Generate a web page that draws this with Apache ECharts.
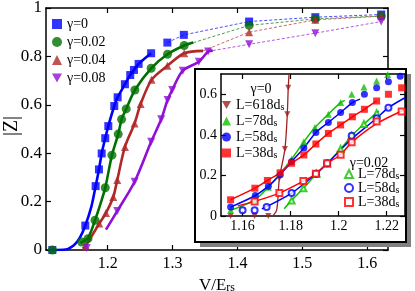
<!DOCTYPE html>
<html><head><meta charset="utf-8">
<script src="https://cdn.jsdelivr.net/npm/echarts@6/dist/echarts.min.js"></script>
<style>html,body{margin:0;padding:0;background:#fff}#c{width:415px;height:291px}</style>
</head><body><div id="c"></div>
<script>
// ---------- tick values ----------
const mainXTicks = [1.2, 1.3, 1.4, 1.5, 1.6];
const mainYTicks = [0, 0.2, 0.4, 0.6, 0.8, 1];
const insetXTicks = [1.16, 1.18, 1.2, 1.22];
const insetYTicks = [0, 0.2, 0.4, 0.6];

// ---------- main panel data [V/Ers, |Z|] ----------
const g000Pts = [[1.1148,0],[1.1656,0.101],[1.1815,0.264],[1.1866,0.333],[1.1908,0.399],[1.1963,0.462],[1.201,0.512],[1.2102,0.595],[1.2154,0.631],[1.2266,0.685],[1.2348,0.723],[1.2405,0.744],[1.2477,0.769],[1.267,0.813],[1.292,0.857],[1.3174,0.889],[1.418,0.944],[1.52,0.962],[1.6215,0.973]];
const g000Fit = [[1.115,0],[1.135,0.002],[1.148,0.02],[1.157,0.05],[1.1656,0.101],[1.175,0.18],[1.1815,0.264],[1.1866,0.333],[1.1908,0.399],[1.1963,0.462],[1.201,0.512],[1.2102,0.595],[1.2154,0.631],[1.2266,0.685],[1.2348,0.723],[1.2405,0.744],[1.2477,0.769],[1.267,0.813]];
const g000Dash = [[1.292,0.857],[1.3174,0.889],[1.418,0.944],[1.52,0.962],[1.6215,0.973]];

const g002Pts = [[1.1148,0],[1.16,0.033],[1.1697,0.047],[1.1805,0.123],[1.1963,0.257],[1.2066,0.392],[1.2163,0.479],[1.2215,0.540],[1.2286,0.583],[1.242,0.661],[1.267,0.751],[1.2923,0.809],[1.3179,0.845],[1.418,0.928],[1.52,0.955],[1.6215,0.967]];
const g002Fit = [[1.158,0.03],[1.1697,0.05],[1.1805,0.123],[1.19,0.2],[1.1963,0.257],[1.2066,0.392],[1.2163,0.479],[1.2215,0.540],[1.2286,0.583],[1.242,0.661],[1.267,0.751],[1.2923,0.809],[1.3179,0.845],[1.332,0.857]];
const g002Dash = [[1.332,0.857],[1.418,0.928],[1.52,0.955],[1.6215,0.967]];

const g004Pts = [[1.1666,0.015],[1.1871,0.109],[1.1974,0.153],[1.2086,0.219],[1.2148,0.289],[1.2266,0.426],[1.2415,0.523],[1.2508,0.603],[1.2677,0.703],[1.292,0.761],[1.318,0.813],[1.418,0.900],[1.52,0.951],[1.6215,0.966]];
const g004Fit = [[1.1615,0.005],[1.1666,0.02],[1.1871,0.109],[1.1974,0.153],[1.2086,0.219],[1.2148,0.289],[1.2266,0.426],[1.2415,0.523],[1.2508,0.603],[1.2677,0.703],[1.292,0.761],[1.318,0.813],[1.347,0.823]];
const g004Dash = [[1.347,0.823],[1.418,0.900],[1.52,0.951],[1.6215,0.966]];

const g008Pts = [[1.1677,0.008],[1.2148,0.161],[1.2415,0.282],[1.267,0.447],[1.2825,0.540],[1.2923,0.620],[1.2994,0.661],[1.3158,0.741],[1.3405,0.778],[1.3548,0.82],[1.418,0.850],[1.52,0.896],[1.6215,0.944]];
const g008Fit = [[1.1974,0.084],[1.2148,0.161],[1.2415,0.282],[1.267,0.447],[1.2825,0.540],[1.2923,0.620],[1.2994,0.661],[1.3158,0.741],[1.3405,0.778],[1.3548,0.82],[1.362,0.824]];
const g008Dash = [[1.362,0.824],[1.418,0.850],[1.52,0.896],[1.6215,0.944]];

// ---------- inset data ----------
const a618Pts = [[1.155,0],[1.165,0],[1.1707,0],[1.1753,0.185],[1.1776,0.330],[1.1786,0.502],[1.179,0.632]];
const a618Fit = [[1.1725,0],[1.1742,0.03],[1.1753,0.185],[1.1776,0.330],[1.1786,0.502],[1.179,0.632],[1.1796,0.75]];
const a78Pts = [[1.155,0.028],[1.1651,0.080],[1.1707,0.142],[1.1756,0.208],[1.1804,0.281],[1.1855,0.366],[1.1901,0.436],[1.1957,0.502],[1.2008,0.559],[1.2054,0.600],[1.2105,0.636],[1.2158,0.665],[1.2204,0.698]];
const a78Fit = [[1.155,0.028],[1.1651,0.080],[1.1707,0.142],[1.1756,0.208],[1.1804,0.281],[1.1855,0.366],[1.1901,0.436],[1.1957,0.502],[1.2008,0.559],[1.2025,0.57]];
const a58Pts = [[1.155,0.044],[1.1653,0.101],[1.1707,0.147],[1.1756,0.203],[1.1804,0.268],[1.1855,0.335],[1.1905,0.412],[1.1957,0.461],[1.2008,0.510],[1.2057,0.559],[1.2107,0.600],[1.2158,0.632],[1.2207,0.662],[1.2256,0.689]];
const a58Fit = [[1.155,0.044],[1.1653,0.101],[1.1707,0.147],[1.1756,0.203],[1.1804,0.268],[1.1855,0.335],[1.1905,0.412],[1.1957,0.461],[1.2008,0.510],[1.2057,0.559],[1.2089,0.576]];
const a38Pts = [[1.155,0.080],[1.1651,0.137],[1.1703,0.175],[1.1756,0.213],[1.1804,0.260],[1.1855,0.301],[1.1905,0.355],[1.1957,0.407],[1.2008,0.449],[1.2057,0.489],[1.2107,0.526],[1.2158,0.567],[1.2207,0.600],[1.2262,0.632]];
const a38Fit = [[1.155,0.080],[1.1651,0.137],[1.1703,0.175],[1.1756,0.213],[1.1804,0.260],[1.1855,0.301],[1.1905,0.355],[1.1957,0.407],[1.2008,0.449],[1.2057,0.489],[1.2107,0.526],[1.2158,0.567]];

const b78Pts = [[1.1804,0.077],[1.1853,0.137],[1.1908,0.208],[1.1952,0.257],[1.2008,0.330],[1.2054,0.396],[1.2105,0.453],[1.2158,0.507]];
const b78Fit = [[1.1773,0.036],[1.1804,0.077],[1.1853,0.137],[1.1908,0.208],[1.1952,0.257],[1.2008,0.330],[1.2054,0.396],[1.2105,0.453],[1.2167,0.518]];
const b58Pts = [[1.16,0.028],[1.165,0.028],[1.17,0.044],[1.1804,0.113],[1.1905,0.208],[1.1952,0.260],[1.2054,0.396],[1.2158,0.482],[1.2207,0.534]];
const b58Fit = [[1.168,0.035],[1.1804,0.113],[1.1905,0.208],[1.1952,0.260],[1.2054,0.380],[1.2158,0.482],[1.2207,0.534],[1.2276,0.583]];
const b38Pts = [[1.165,0.072],[1.1753,0.113],[1.1853,0.172],[1.1905,0.208],[1.1952,0.260],[1.2008,0.302],[1.2054,0.363],[1.2158,0.466],[1.2262,0.515]];
const b38Fit = [[1.158,0.05],[1.165,0.072],[1.1753,0.113],[1.1853,0.172],[1.1905,0.208],[1.1952,0.260],[1.2008,0.302],[1.2054,0.363],[1.2158,0.455],[1.2276,0.525]];

// ---------- labels ----------
const mainNames = ['γ=0', 'γ=0.02', 'γ=0.04', 'γ=0.08'];
const insetNames1 = ['L=618', 'L=78', 'L=58', 'L=38'];
const insetNames2 = ['L=78 ', 'L=58 ', 'L=38 '];
const insetHead1 = 'γ=0';
const insetHead2 = 'γ=0.02';
const yTitle = '|Z|';

const FONT = '"Liberation Serif","DejaVu Serif","Times New Roman",serif';
const fmt = v => String(+(+v).toFixed(2));
const DOWN = 'path://M0,0L10,0L5,9Z';

const mainSets = [
  {name: mainNames[0], color: '#0000ff', symbol: 'rect', size: 8, pts: g000Pts, fit: g000Fit, dash: g000Dash},
  {name: mainNames[1], color: '#007000', symbol: 'circle', size: 9, pts: g002Pts, fit: g002Fit, dash: g002Dash},
  {name: mainNames[2], color: '#b02828', symbol: 'triangle', size: 8, pts: g004Pts, fit: g004Fit, dash: g004Dash},
  {name: mainNames[3], color: '#9010d8', symbol: DOWN, size: 8, pts: g008Pts, fit: g008Fit, dash: g008Dash}
];
const insetSets = [
  {name: insetNames1[0], color: '#a02020', symbol: DOWN, size: 6, pts: a618Pts, fit: a618Fit, lw: 1.3},
  {name: insetNames1[1], color: '#10c000', symbol: 'triangle', size: 7, pts: a78Pts, fit: a78Fit, lw: 1.5},
  {name: insetNames1[2], color: '#0000ff', symbol: 'circle', size: 7, pts: a58Pts, fit: a58Fit, lw: 1.5},
  {name: insetNames1[3], color: '#ff0000', symbol: 'rect', size: 7, pts: a38Pts, fit: a38Fit, lw: 1.5},
  {name: insetNames2[0], color: '#10c000', symbol: 'emptyTriangle', size: 6, pts: b78Pts, fit: b78Fit, lw: 1.5},
  {name: insetNames2[1], color: '#0000ff', symbol: 'emptyCircle', size: 6, pts: b58Pts, fit: b58Fit, lw: 1.5},
  {name: insetNames2[2], color: '#ff0000', symbol: 'emptyRect', size: 6, pts: b38Pts, fit: b38Fit, lw: 1.5}
];

const series = [];
mainSets.forEach((s, i) => {
  series.push({type: 'line', name: 'fit' + i, xAxisIndex: 0, yAxisIndex: 0, data: s.fit, showSymbol: false, smooth: 0.3,
    lineStyle: {color: s.color, width: 2.6}, z: 2, silent: true});
  series.push({type: 'line', name: 'dash' + i, xAxisIndex: 0, yAxisIndex: 0, data: s.dash, showSymbol: false,
    lineStyle: {color: s.color, width: 0.7, type: [3, 2]}, z: 2, silent: true});
});
mainSets.forEach(s => {
  series.push({type: 'scatter', name: s.name, xAxisIndex: 0, yAxisIndex: 0, data: s.pts, symbol: s.symbol,
    symbolSize: s.size, itemStyle: {color: s.color}, z: 3});
});
insetSets.forEach((s, i) => {
  series.push({type: 'line', name: 'ifit' + i, xAxisIndex: 2, yAxisIndex: 2, data: s.fit, showSymbol: false, smooth: 0.3,
    lineStyle: {color: s.color, width: s.lw}, z: 10, silent: true, clip: true});
});
insetSets.forEach(s => {
  series.push({type: 'scatter', name: s.name, xAxisIndex: 2, yAxisIndex: 2, data: s.pts, symbol: s.symbol,
    symbolSize: s.size, clip: true,
    itemStyle: {color: s.color, borderColor: s.color, borderWidth: s.symbol.startsWith('empty') ? 1.1 : 0}, z: 11});
});

const axLine = {onZero: false, lineStyle: {color: '#000', width: 1.5}};
function xAx(grid, min, max, ticks, pos, show, extra) {
  return Object.assign({
    type: 'value', gridIndex: grid, min: min, max: max, position: pos,
    axisLine: axLine, splitLine: {show: false},
    axisTick: {inside: true, length: 5, customValues: ticks, lineStyle: {color: '#000', width: 1.2}},
    axisLabel: {show: show, customValues: ticks, formatter: fmt, color: '#000', fontFamily: FONT, fontSize: grid ? 14 : 16, margin: grid ? 3 : 6}
  }, extra || {});
}
function yAx(grid, min, max, ticks, pos, show, extra) {
  return Object.assign({
    type: 'value', gridIndex: grid, min: min, max: max, position: pos,
    axisLine: axLine, splitLine: {show: false},
    axisTick: {inside: true, length: 5, customValues: ticks, lineStyle: {color: '#000', width: 1.2}},
    axisLabel: {show: show, customValues: ticks, formatter: fmt, color: '#000', fontFamily: FONT, fontSize: grid ? 14 : 17, margin: 4}
  }, extra || {});
}

const richSub = (big, small) => ({
  a: {fontFamily: FONT, fontSize: big, color: '#000', lineHeight: big, verticalAlign: 'bottom'},
  s: {fontFamily: FONT, fontSize: small, color: '#000', lineHeight: 6, verticalAlign: 'bottom'}
});

const option = {
  animation: false,
  backgroundColor: '#fff',
  grid: [
    {left: 46, top: 8, width: 342, height: 242, containLabel: false, outerBoundsMode: 'none'},
    {left: 46, top: 8, width: 342, height: 242, containLabel: false, outerBoundsMode: 'none'},
    {left: 221, top: 74, width: 184, height: 142, containLabel: false, outerBoundsMode: 'none', z: 10}
  ],
  xAxis: [
    xAx(0, 1.105, 1.632, mainXTicks, 'bottom', true, {
      name: '{a|V/E}{s|rs}', nameLocation: 'middle', nameGap: 17,
      nameTextStyle: {rich: richSub(17, 12), verticalAlign: 'top'}
    }),
    xAx(1, 1.105, 1.632, mainXTicks, 'top', false),
    xAx(2, 1.151, 1.2276, insetXTicks, 'bottom', true, {z: 10}),
    xAx(2, 1.151, 1.2276, insetXTicks, 'top', false, {z: 10})
  ],
  yAxis: [
    yAx(0, 0, 1, mainYTicks, 'left', true),
    yAx(1, 0, 1, mainYTicks, 'right', false),
    yAx(2, 0, 0.7, insetYTicks, 'left', true, {z: 10}),
    yAx(2, 0, 0.7, insetYTicks, 'right', false, {z: 10})
  ],
  legend: [
    {data: mainSets.map(s => ({name: s.name, icon: s.symbol})), orient: 'vertical', left: 52, top: 17, itemWidth: 10, itemHeight: 10, itemGap: 4, padding: 0,
      textStyle: {fontFamily: FONT, fontSize: 14, color: '#000', lineHeight: 14}, selectedMode: false},
    {data: insetSets.slice(0, 4).map(s => ({name: s.name, icon: s.symbol})), orient: 'vertical', left: 222, top: 98, itemWidth: 9, itemHeight: 9, itemGap: 2, padding: 0, z: 12,
      formatter: n => '{a|' + n.trim() + 'd}{s|s}', textStyle: {rich: richSub(14, 10)}, selectedMode: false},
    {data: insetSets.slice(4).map(s => ({name: s.name, icon: s.symbol})), orient: 'vertical', left: 344, top: 167, itemWidth: 8, itemHeight: 8, itemGap: 0, padding: 0, z: 12,
      formatter: n => '{a|' + n.trim() + 'd}{s|s}', textStyle: {rich: richSub(14, 10)}, selectedMode: false}
  ],
  graphic: [
    {type: 'rect', z: 5, silent: true, shape: {x: 200, y: 74, width: 211, height: 173}, style: {fill: '#808080'}},
    {type: 'rect', z: 6, silent: true, shape: {x: 195, y: 69, width: 211, height: 173}, style: {fill: '#fff', stroke: '#000', lineWidth: 2}},
    {type: 'text', z: 12, x: 261, y: 89, style: {text: insetHead1, font: '14px ' + FONT, fill: '#000', align: 'center', verticalAlign: 'middle'}},
    {type: 'text', z: 12, x: 369, y: 163, style: {text: insetHead2, font: '14px ' + FONT, fill: '#000', align: 'center', verticalAlign: 'middle'}},
    {type: 'text', z: 12, x: 12, y: 126, rotation: Math.PI / 2, style: {text: yTitle, font: '20px ' + FONT, fill: '#000', align: 'center', verticalAlign: 'middle'}}
  ],
  series: series
};
const chart = echarts.init(document.getElementById('c'), null, {renderer: 'canvas'});
chart.setOption(option);
</script></body></html>
